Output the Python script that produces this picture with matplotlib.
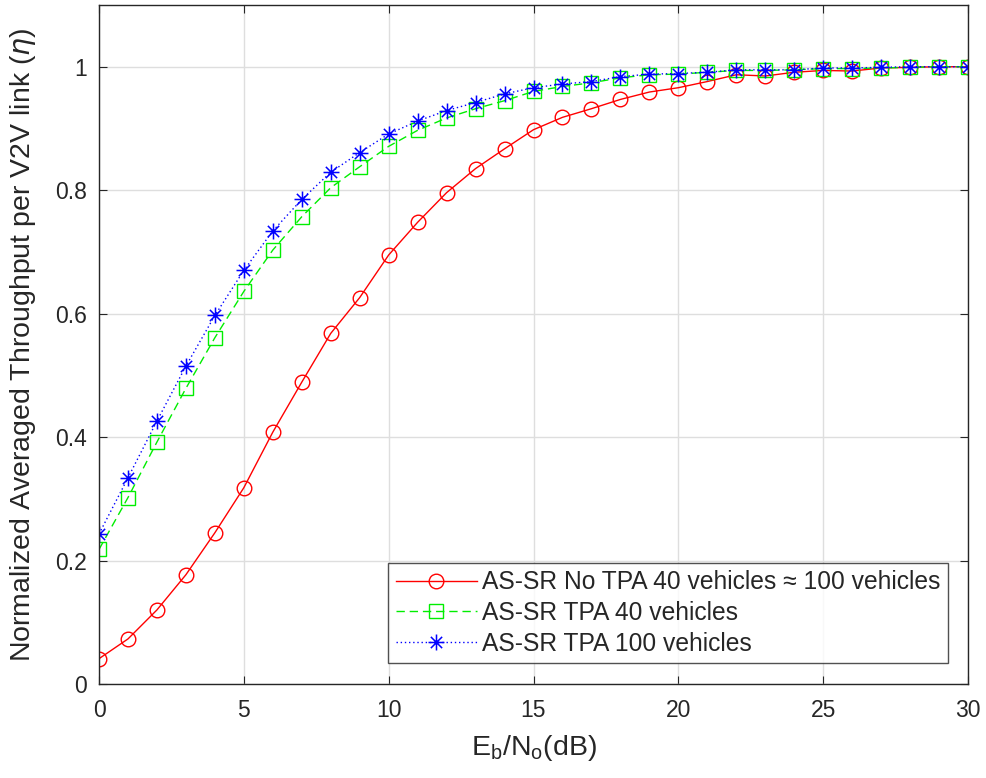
import numpy as np
import matplotlib.pyplot as plt
from matplotlib.path import Path

# Eb/No (dB)
snr_db = list(range(0, 31))

# AS-SR No TPA (40 vehicles ~ 100 vehicles)
eta_no_tpa = [0.041, 0.073, 0.120, 0.177, 0.245, 0.318, 0.408, 0.489, 0.568, 0.626,
              0.695, 0.748, 0.796, 0.835, 0.867, 0.898, 0.918, 0.932, 0.947, 0.959,
              0.966, 0.976, 0.987, 0.985, 0.991, 0.994, 0.993, 0.998, 0.999, 1.000,
              1.000]
# AS-SR TPA 40 vehicles
eta_tpa_40 = [0.218, 0.302, 0.392, 0.479, 0.561, 0.636, 0.703, 0.757, 0.804, 0.838,
              0.871, 0.897, 0.917, 0.932, 0.945, 0.960, 0.968, 0.974, 0.982, 0.987,
              0.988, 0.991, 0.994, 0.994, 0.995, 0.997, 0.997, 0.998, 0.999, 1.000,
              1.000]
# AS-SR TPA 100 vehicles
eta_tpa_100 = [0.243, 0.334, 0.426, 0.515, 0.597, 0.670, 0.734, 0.785, 0.829, 0.861,
               0.891, 0.912, 0.929, 0.942, 0.956, 0.966, 0.972, 0.976, 0.984, 0.988,
               0.989, 0.991, 0.995, 0.995, 0.995, 0.998, 0.998, 0.999, 1.000, 1.000,
               1.000]

plt.rcParams['font.family'] = ['Liberation Sans', 'DejaVu Sans']
plt.rcParams['xtick.direction'] = 'in'
plt.rcParams['ytick.direction'] = 'in'

text_color = "#262626"

# matlab-like asterisk marker (8 arms)
d = 0.7071
asterisk = Path([(-1, 0), (1, 0), (0, -1), (0, 1), (-d, -d), (d, d), (-d, d), (d, -d)],
                [Path.MOVETO, Path.LINETO] * 4)

fig = plt.figure(figsize=(9.86, 7.78), dpi=100)
ax = fig.add_axes([99 / 986, 1 - 684 / 778, (968 - 99) / 986, (684 - 5) / 778])

ax.plot(snr_db, eta_no_tpa, color="#ff0000", linestyle="-", linewidth=1.0,
        marker="o", markersize=10.5, markerfacecolor="none", markeredgewidth=1.0,
        label="AS-SR No TPA 40 vehicles \u2248 100 vehicles")
ax.plot(snr_db, eta_tpa_40, color="#00ee00", linestyle=(0, (6, 3.5)), linewidth=1.0,
        marker="s", markersize=9.5, markerfacecolor="none", markeredgewidth=1.0,
        label="AS-SR TPA 40 vehicles")
ax.plot(snr_db, eta_tpa_100, color="#0000ff", linestyle=(0, (1, 2)), linewidth=1.0,
        marker=asterisk, markersize=11.5, markerfacecolor="none", markeredgewidth=1.1,
        label="AS-SR TPA 100 vehicles")

ax.set_xlim(0, 30)
ax.set_ylim(0, 1.1)
ax.set_xticks(np.arange(0, 31, 5))
ax.set_yticks([0, 0.2, 0.4, 0.6, 0.8, 1])
ax.set_yticklabels(["0", "0.2", "0.4", "0.6", "0.8", "1"])

ax.grid(True, color="#dedede", linewidth=1.0)
ax.set_axisbelow(True)

ax.tick_params(axis='both', which='major', labelsize=16.5, colors=text_color,
               length=6, width=0.8, top=True, right=True, labeltop=False, labelright=False)
ax.tick_params(axis='x', pad=11)
ax.tick_params(axis='y', pad=9)
for s in ax.spines.values():
    s.set_color(text_color)
    s.set_linewidth(1.0)

ax.set_xlabel(r"E$_\mathregular{b}$/N$_\mathregular{o}$(dB)", fontsize=20.5, color=text_color)
ax.xaxis.set_label_coords(0.5, -0.072)
ax.set_ylabel(r"Normalized Averaged Throughput per V2V link ($\eta$)", fontsize=20.5,
              color=text_color)
ax.yaxis.set_label_coords(-0.07, 0.5)

leg = ax.legend(loc="lower right", bbox_to_anchor=(0.9766, 0.0305), borderaxespad=0,
                fontsize=17.7, frameon=True, fancybox=False, edgecolor=text_color,
                handlelength=3.3, handletextpad=0.2, labelspacing=0.28, borderpad=0.3)
leg.get_frame().set_linewidth(1.0)
for t in leg.get_texts():
    t.set_color(text_color)

plt.savefig("out.png", dpi=100)
